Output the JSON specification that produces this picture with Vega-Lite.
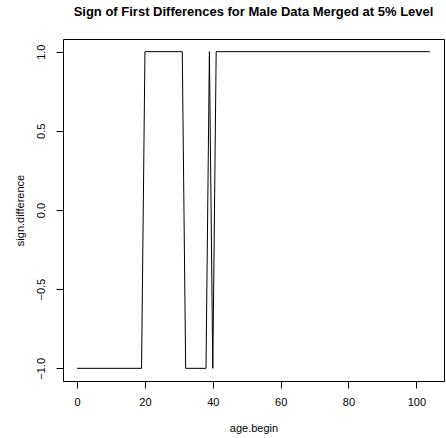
{
  "$schema": "https://vega.github.io/schema/vega-lite/v6.json",
  "width": 381,
  "height": 342,
  "autosize": {"type": "none"},
  "padding": {"left": 63, "top": 39, "right": 2, "bottom": 57},
  "background": "white",
  "title": {
    "text": "Sign of First Differences for Male Data Merged at 5% Level",
    "font": "Liberation Sans",
    "fontSize": 13,
    "fontWeight": "bold",
    "color": "black",
    "anchor": "middle",
    "offset": 20
  },
  "config": {
    "view": {"stroke": "black", "strokeWidth": 1},
    "axis": {
      "labelFont": "Liberation Sans",
      "titleFont": "Liberation Sans",
      "labelFontSize": 11,
      "titleFontSize": 11,
      "titleFontWeight": "normal",
      "labelColor": "black",
      "titleColor": "black",
      "tickColor": "black",
      "domainColor": "black",
      "grid": false,
      "tickSize": 7,
      "domain": false
    }
  },
  "data": {
    "values": [
      {"age.begin": 0, "sign.difference": -1},
      {"age.begin": 19, "sign.difference": -1},
      {"age.begin": 20, "sign.difference": 1},
      {"age.begin": 31, "sign.difference": 1},
      {"age.begin": 32, "sign.difference": -1},
      {"age.begin": 38, "sign.difference": -1},
      {"age.begin": 39, "sign.difference": 1},
      {"age.begin": 40, "sign.difference": -1},
      {"age.begin": 41, "sign.difference": 1},
      {"age.begin": 104, "sign.difference": 1}
    ]
  },
  "mark": {"type": "line", "color": "black", "strokeWidth": 1, "clip": true},
  "encoding": {
    "x": {
      "field": "age\\.begin",
      "type": "quantitative",
      "scale": {"domain": [-4.16, 108.16], "nice": false, "zero": false},
      "axis": {
        "title": "age.begin",
        "values": [0, 20, 40, 60, 80, 100],
        "labelPadding": 8,
        "labelBaseline": "top",
        "titleY": 47,
        "titleBaseline": "middle"
      }
    },
    "y": {
      "field": "sign\\.difference",
      "type": "quantitative",
      "scale": {"domain": [-1.08, 1.08], "nice": false, "zero": false},
      "axis": {
        "title": "sign.difference",
        "values": [-1, -0.5, 0, 0.5, 1],
        "format": ".1f",
        "labelAngle": -90,
        "labelAlign": "center",
        "labelBaseline": "bottom",
        "labelPadding": 10,
        "titleX": -43,
        "titleY": 171,
        "titleAngle": -90,
        "titleAlign": "center",
        "titleBaseline": "middle"
      }
    }
  }
}
